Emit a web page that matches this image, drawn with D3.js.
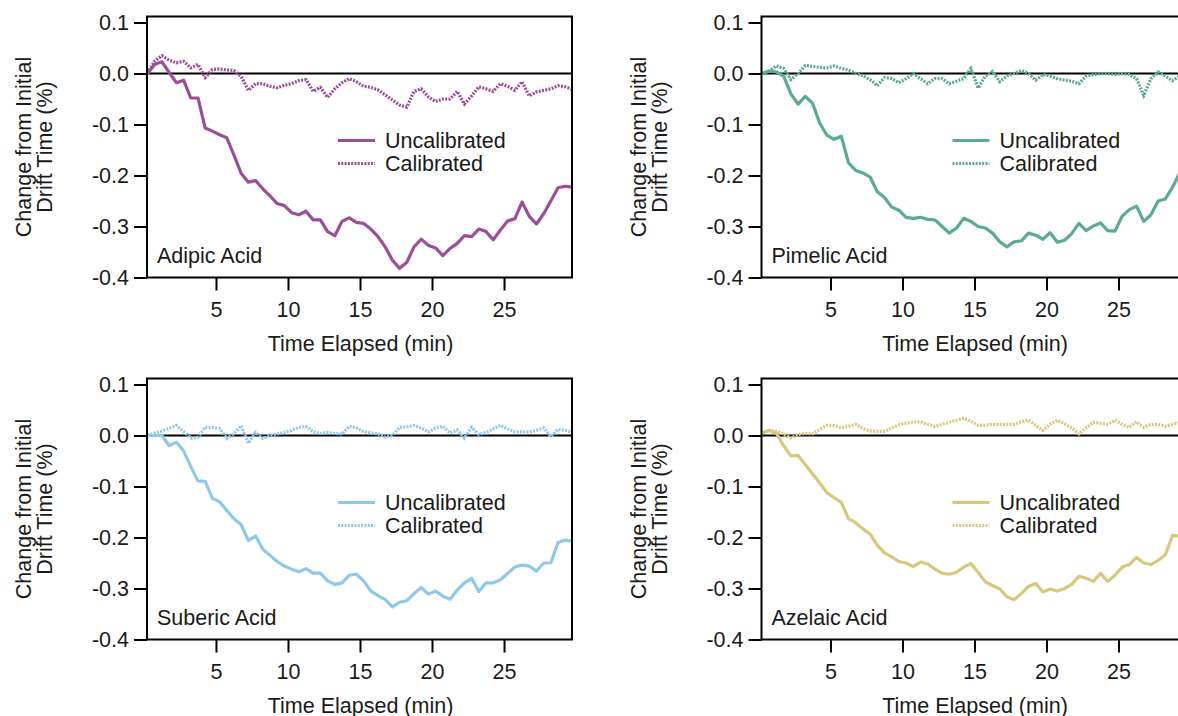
<!DOCTYPE html>
<html><head><meta charset="utf-8">
<script src="https://cdn.jsdelivr.net/npm/d3@7"></script>
<style>
html,body{margin:0;padding:0;background:#fff;overflow:hidden;}
text{font-family:"Liberation Sans",Arial,sans-serif;fill:#1a1a1a;}
</style></head>
<body><svg id="chart" width="1178" height="716"></svg>
<script>
const times = [0.25,0.75,1.25,1.75,2.25,2.75,3.25,3.75,4.25,4.75,5.25,5.75,6.25,6.75,7.25,7.75,8.25,8.75,9.25,9.75,
10.25,10.75,11.25,11.75,12.25,12.75,13.25,13.75,14.25,14.75,15.25,15.75,16.25,16.75,17.25,17.75,18.25,18.75,19.25,19.75,
20.25,20.75,21.25,21.75,22.25,22.75,23.25,23.75,24.25,24.75,25.25,25.75,26.25,26.75,27.25,27.75,28.25,28.75,29.25,29.75];

const adipicUncal = [0.0,0.018,0.023,0.002,-0.018,-0.013,-0.048,-0.048,-0.107,-0.113,-0.12,-0.126,-0.16,-0.196,-0.213,-0.21,-0.226,-0.24,-0.255,-0.259,
-0.273,-0.277,-0.27,-0.287,-0.287,-0.31,-0.318,-0.29,-0.283,-0.292,-0.294,-0.305,-0.32,-0.34,-0.366,-0.382,-0.37,-0.34,-0.325,-0.337,
-0.342,-0.357,-0.343,-0.333,-0.318,-0.32,-0.305,-0.31,-0.326,-0.307,-0.289,-0.285,-0.252,-0.28,-0.295,-0.275,-0.25,-0.224,-0.221,-0.223];
const adipicCal = [0.0,0.025,0.035,0.026,0.021,0.024,0.011,0.018,-0.008,0.008,0.009,0.007,0.006,-0.006,-0.033,-0.02,-0.02,-0.025,-0.028,-0.023,
-0.02,-0.014,-0.012,-0.035,-0.027,-0.047,-0.03,-0.018,-0.01,-0.016,-0.025,-0.027,-0.032,-0.042,-0.052,-0.062,-0.066,-0.035,-0.03,-0.046,
-0.055,-0.05,-0.05,-0.035,-0.06,-0.044,-0.026,-0.03,-0.035,-0.02,-0.025,-0.033,-0.016,-0.044,-0.036,-0.033,-0.03,-0.024,-0.026,-0.031];

const pimelicUncal = [0.0,0.005,0.003,-0.005,-0.04,-0.06,-0.045,-0.058,-0.097,-0.121,-0.129,-0.123,-0.175,-0.19,-0.195,-0.203,-0.232,-0.243,-0.262,-0.268,
-0.282,-0.284,-0.282,-0.286,-0.287,-0.3,-0.313,-0.303,-0.284,-0.29,-0.3,-0.303,-0.313,-0.33,-0.34,-0.33,-0.328,-0.313,-0.317,-0.325,
-0.312,-0.331,-0.327,-0.314,-0.294,-0.308,-0.299,-0.293,-0.308,-0.309,-0.28,-0.267,-0.26,-0.29,-0.277,-0.25,-0.246,-0.223,-0.195,-0.18];
const pimelicCal = [0.0,0.005,0.015,0.01,-0.012,0.0,0.016,0.014,0.012,0.011,0.015,0.01,0.007,0.0,-0.004,-0.012,-0.024,-0.008,-0.01,-0.018,
-0.01,0.0,-0.01,-0.02,-0.01,-0.01,-0.02,-0.015,-0.01,0.01,-0.028,-0.005,0.004,-0.016,-0.005,0.0,0.006,0.0,-0.013,-0.002,
-0.005,-0.01,-0.013,-0.015,-0.02,-0.005,-0.002,0.0,0.0,-0.002,0.0,-0.002,-0.01,-0.043,-0.01,0.003,-0.005,-0.014,-0.005,-0.01];

const subericUncal = [0.0,0.0,0.0,-0.02,-0.013,-0.03,-0.061,-0.089,-0.09,-0.123,-0.13,-0.147,-0.163,-0.175,-0.206,-0.197,-0.223,-0.235,-0.247,-0.256,
-0.262,-0.267,-0.261,-0.27,-0.27,-0.285,-0.292,-0.289,-0.274,-0.272,-0.285,-0.305,-0.314,-0.322,-0.336,-0.327,-0.324,-0.31,-0.298,-0.311,
-0.305,-0.315,-0.321,-0.303,-0.289,-0.28,-0.306,-0.289,-0.289,-0.283,-0.27,-0.258,-0.254,-0.256,-0.266,-0.25,-0.25,-0.21,-0.205,-0.207];
const subericCal = [0.0,0.005,0.009,0.014,0.02,0.008,-0.005,-0.003,0.016,0.016,0.014,-0.006,0.004,0.019,-0.015,0.006,-0.006,0.0,0.003,0.006,
0.01,0.016,0.018,0.007,0.004,0.006,0.004,0.003,0.018,0.015,0.008,0.005,0.003,-0.003,0.0,0.016,0.017,0.02,0.015,0.007,
0.015,0.018,0.005,0.011,-0.005,0.016,0.002,0.006,0.013,0.02,0.013,0.007,0.007,0.007,0.01,0.015,-0.002,0.012,0.01,0.007];

const azelaicUncal = [0.005,0.01,0.004,-0.02,-0.04,-0.039,-0.057,-0.075,-0.093,-0.112,-0.122,-0.131,-0.163,-0.171,-0.183,-0.193,-0.215,-0.23,-0.238,-0.247,
-0.25,-0.257,-0.248,-0.252,-0.262,-0.27,-0.272,-0.268,-0.258,-0.251,-0.268,-0.287,-0.294,-0.301,-0.316,-0.322,-0.31,-0.296,-0.29,-0.307,
-0.301,-0.305,-0.3,-0.292,-0.276,-0.28,-0.286,-0.27,-0.286,-0.274,-0.258,-0.253,-0.239,-0.25,-0.253,-0.245,-0.234,-0.196,-0.197,-0.2];
const azelaicCal = [0.005,0.01,0.008,0.003,-0.005,0.002,0.004,0.003,0.012,0.02,0.02,0.015,0.018,0.022,0.014,0.009,0.008,0.008,0.015,0.021,
0.024,0.027,0.027,0.022,0.018,0.022,0.026,0.03,0.034,0.028,0.02,0.02,0.022,0.022,0.022,0.022,0.027,0.03,0.02,0.01,
0.022,0.03,0.023,0.015,0.003,0.015,0.026,0.024,0.022,0.03,0.022,0.016,0.027,0.016,0.022,0.022,0.018,0.022,0.026,0.024];

const panelNames = ["Adipic Acid","Pimelic Acid","Suberic Acid","Azelaic Acid"];
const panelColors = ["#9c4f99","#5aaa95","#8ec9ec","#d9c77b"];
const uncalSeries = [adipicUncal,pimelicUncal,subericUncal,azelaicUncal];
const calSeries = [adipicCal,pimelicCal,subericCal,azelaicCal];
const legendLabels = ["Uncalibrated","Calibrated"];
const xTicks = [5,10,15,20,25];
const yTicks = [0.1,0.0,-0.1,-0.2,-0.3,-0.4];
const xTitle = "Time Elapsed (min)";
const yTitle = ["Change from Initial","Drift Time (%)"];

const svg = d3.select("#chart");
const W = 425, H = 261;
const origins = [[147,16.5],[761.5,16.5],[147,378.5],[761.5,378.5]];
const FS = 21.5;

panelNames.forEach((name,i)=>{
  const [ox,oy] = origins[i];
  const g = svg.append("g").attr("transform",`translate(${ox},${oy})`);
  const x = d3.scaleLinear().domain([0.21,29.72]).range([0,W]);
  const y = d3.scaleLinear().domain([-0.4,0.1118]).range([H,0]);
  const color = panelColors[i];

  g.append("clipPath").attr("id","clip"+i).append("rect").attr("width",W).attr("height",H);

  g.append("line").attr("x1",0).attr("x2",W).attr("y1",y(0)).attr("y2",y(0))
    .attr("stroke","#000").attr("stroke-width",2);

  const line = d3.line().x((d,j)=>x(times[j])).y(d=>y(d));
  g.append("path").datum(calSeries[i]).attr("d",line).attr("fill","none")
    .attr("stroke",color).attr("stroke-width",3.2).attr("stroke-dasharray","2,1.3")
    .attr("clip-path",`url(#clip${i})`);
  g.append("path").datum(uncalSeries[i]).attr("d",line).attr("fill","none")
    .attr("stroke",color).attr("stroke-width",3.2).attr("stroke-linejoin","round")
    .attr("clip-path",`url(#clip${i})`);

  g.append("rect").attr("width",W).attr("height",H).attr("fill","none")
    .attr("stroke","#000").attr("stroke-width",2);

  const yAxis = d3.axisLeft(y).tickValues(yTicks).tickSize(13).tickPadding(5)
    .tickFormat(d=>d3.format(".1f")(d).replace("−","-"));
  const ya = g.append("g").call(yAxis);
  const xAxis = d3.axisBottom(x).tickValues(xTicks).tickSize(13).tickPadding(11);
  const xa = g.append("g").attr("transform",`translate(0,${H})`).call(xAxis);
  [ya,xa].forEach(a=>{
    a.select(".domain").remove();
    a.selectAll(".tick line").attr("stroke","#000").attr("stroke-width",2);
    a.selectAll(".tick text").attr("font-size",FS).attr("font-family","Liberation Sans, Arial, sans-serif").attr("fill","#1a1a1a");
  });

  g.append("text").attr("x",W/2+1).attr("y",H+73).attr("text-anchor","middle")
    .attr("font-size",FS).text(xTitle);
  const yt = g.append("text").attr("transform",`translate(-116,${H/2}) rotate(-90)`)
    .attr("text-anchor","middle").attr("font-size",FS);
  yt.append("tspan").attr("x",0).attr("y",0).text(yTitle[0]);
  yt.append("tspan").attr("x",0).attr("y",21).text(yTitle[1]);

  g.append("text").attr("x",10).attr("y",H-15).attr("font-size",FS).text(name);

  const lg = g.append("g").attr("transform","translate(191,124)");
  legendLabels.forEach((lab,k)=>{
    lg.append("line").attr("x1",0).attr("x2",37).attr("y1",k*23).attr("y2",k*23)
      .attr("stroke",color).attr("stroke-width",3.2)
      .attr("stroke-dasharray",k===1?"2,1.3":null);
    lg.append("text").attr("x",47).attr("y",k*23).attr("dy","0.35em")
      .attr("font-size",FS).text(lab);
  });
});
</script></body></html>
